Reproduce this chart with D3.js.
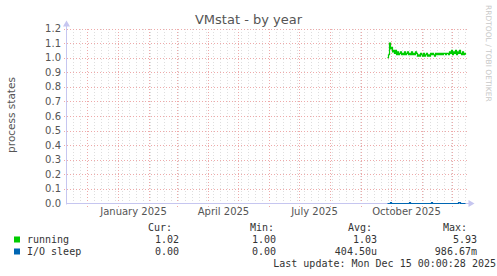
<!DOCTYPE html>
<html>
<head>
<meta charset="utf-8">
<script src="https://cdn.jsdelivr.net/npm/d3@7"></script>
<style>
  body { margin: 0; background: #fff; }
  text { font-family: "DejaVu Sans", sans-serif; }
  .mono { font-family: "DejaVu Sans Mono", monospace; font-size: 10px; fill: #333; }
</style>
</head>
<body>
<div id="chart"></div>
<script>
// data (daily averages, Munin year view = 400 days)
const lastUpdate = '2025-12-15T00:00:28Z';
const firstDay = '2025-09-27';
const runningValues = [
  1.00, 1.02, 1.10, 1.06,
  1.07, 1.04, 1.05, 1.03, 1.05, 1.02, 1.04, 1.02, 1.03, 1.04, 1.02, 1.03, 1.02, 1.04, 1.02, 1.03,
  1.04, 1.02, 1.03, 1.02, 1.04, 1.02, 1.03, 1.02, 1.04, 1.03, 1.01, 1.02, 1.01, 1.03, 1.02,
  1.01, 1.03, 1.01, 1.02, 1.03, 1.01, 1.02, 1.01, 1.03, 1.02, 1.03, 1.02, 1.01, 1.03, 1.02,
  1.03, 1.02, 1.03, 1.02, 1.03, 1.02, 1.03, 1.03, 1.02, 1.03, 1.03, 1.02, 1.04, 1.03, 1.05,
  1.02, 1.04, 1.03, 1.05, 1.02, 1.04, 1.03, 1.05, 1.03, 1.02, 1.04, 1.02, 1.03, 1.02
];
const ioSleepValues = [
  0, 0, 0, 0.006,
  0, 0, 0, 0, 0, 0, 0, 0, 0, 0, 0, 0, 0, 0, 0, 0,
  0, 0, 0.006, 0, 0, 0, 0, 0, 0, 0, 0, 0, 0, 0, 0,
  0, 0, 0, 0, 0, 0, 0, 0, 0, 0.006, 0, 0, 0, 0, 0,
  0, 0, 0, 0, 0, 0, 0, 0, 0, 0, 0, 0, 0, 0, 0,
  0, 0, 0, 0, 0, 0, 0.006, 0.006, 0, 0, 0, 0, 0, 0
];
const yTicks = [0, 0.1, 0.2, 0.3, 0.4, 0.5, 0.6, 0.7, 0.8, 0.9, 1.0, 1.1, 1.2];
const monthLabels = ['2025-01-01', '2025-04-01', '2025-07-01', '2025-10-01'];

const legendHeader = ['Cur:', 'Min:', 'Avg:', 'Max:'];
const legendRows = [
  {name: 'running', color: '#00cc00', stats: ['1.02', '1.00', '1.03', '5.93']},
  {name: 'I/O sleep', color: '#0066b3', stats: ['0.00', '0.00', '404.50u', '986.67m']}
];

const W = 497, H = 276;
const plot = {left: 66.5, right: 466.5, top: 28.5, bottom: 203.5};

const svg = d3.select('#chart').append('svg')
  .attr('width', W)
  .attr('height', H);

const end = new Date(lastUpdate);
const start = d3.utcDay.offset(end, -400);

const x = d3.scaleUtc().domain([start, end]).range([plot.left, plot.right]);
const y = d3.scaleLinear().domain([0, 1.2]).range([plot.bottom, plot.top]);

const day0 = new Date(firstDay + 'T00:00:00Z');
const series = (vals) => vals.map((v, i) => ({t: d3.utcDay.offset(day0, i), v: v}));

// minor grid: weeks
const months = d3.utcMonth.range(start, end);
const monthSet = new Set(months.map(d => +d));
const weeks = d3.utcSunday.range(start, end).filter(d => !monthSet.has(+d));

const grid = svg.append('g').attr('shape-rendering', 'crispEdges');
grid.selectAll('.minor')
  .data(weeks)
  .join('line')
  .attr('x1', d => Math.round(x(d)) + 0.5)
  .attr('x2', d => Math.round(x(d)) + 0.5)
  .attr('y1', plot.top)
  .attr('y2', plot.bottom)
  .attr('stroke', '#dedede')
  .attr('stroke-dasharray', '1,2');

grid.selectAll('.hgrid')
  .data(yTicks.slice(1))
  .join('line')
  .attr('x1', plot.left - 3)
  .attr('x2', plot.right + 2)
  .attr('y1', d => Math.round(y(d)) + 0.5)
  .attr('y2', d => Math.round(y(d)) + 0.5)
  .attr('stroke', '#eeaaaa')
  .attr('stroke-dasharray', '1,2');

grid.selectAll('.major')
  .data(months)
  .join('line')
  .attr('x1', d => Math.round(x(d)) + 0.5)
  .attr('x2', d => Math.round(x(d)) + 0.5)
  .attr('y1', plot.top)
  .attr('y2', plot.bottom + 3)
  .attr('stroke', '#eeaaaa')
  .attr('stroke-dasharray', '1,2');

// y axis labels
svg.append('g')
  .selectAll('text')
  .data(yTicks)
  .join('text')
  .attr('x', 61)
  .attr('y', d => y(d))
  .attr('dy', '0.35em')
  .attr('text-anchor', 'end')
  .style('font-size', '10px')
  .style('fill', '#555')
  .text(d => d3.format('.1f')(d));

// x labels, centered on the month like rrdtool does
svg.append('g')
  .selectAll('text')
  .data(monthLabels.map(s => new Date(s + 'T00:00:00Z')))
  .join('text')
  .attr('x', d => x(d3.utcDay.offset(d, 15)))
  .attr('y', 215)
  .attr('text-anchor', 'middle')
  .style('font-size', '10px')
  .style('fill', '#555')
  .text(d => d3.utcFormat('%B %Y')(d));

// data lines
const line = d3.line()
  .x(d => x(d.t))
  .y(d => y(d.v))
  .curve(d3.curveStepAfter);

svg.append('path')
  .datum(series(runningValues))
  .attr('d', line)
  .attr('fill', 'none')
  .attr('stroke', '#00cc00')
  .attr('stroke-width', 1.2);

// axes
const axisColor = '#c6c6f0';
svg.append('line')
  .attr('x1', plot.left).attr('x2', plot.right + 3)
  .attr('y1', plot.bottom).attr('y2', plot.bottom)
  .attr('stroke', axisColor);
svg.append('line')
  .attr('x1', plot.left).attr('x2', plot.left)
  .attr('y1', plot.bottom + 1).attr('y2', plot.top - 3)
  .attr('stroke', axisColor);
svg.append('path')
  .attr('d', `M${plot.right + 2},${plot.bottom - 3.5}L${plot.right + 8},${plot.bottom}L${plot.right + 2},${plot.bottom + 3.5}Z`)
  .attr('fill', axisColor);
svg.append('path')
  .attr('d', `M${plot.left - 3.5},${plot.top - 2}L${plot.left},${plot.top - 8}L${plot.left + 3.5},${plot.top - 2}Z`)
  .attr('fill', axisColor);

svg.append('path')
  .datum(series(ioSleepValues))
  .attr('d', line)
  .attr('fill', 'none')
  .attr('stroke', '#0066b3')
  .attr('stroke-width', 1.2);

// title and labels
svg.append('text')
  .attr('x', 248.5)
  .attr('y', 24)
  .attr('text-anchor', 'middle')
  .style('font-size', '13px')
  .style('fill', '#555')
  .text('VMstat - by year');

svg.append('text')
  .attr('transform', 'translate(15,115) rotate(-90)')
  .attr('text-anchor', 'middle')
  .style('font-size', '10.5px')
  .style('fill', '#555')
  .text('process states');

svg.append('text')
  .attr('transform', 'translate(486,5) rotate(90)')
  .attr('text-anchor', 'start')
  .style('font-size', '7.5px')
  .style('fill', '#c8c8c8')
  .text('RRDTOOL / TOBI OETIKER');

// legend
const colRight = [179, 276, 377, 477];
const headLeft = [148, 250, 348, 443];
const legend = svg.append('g');
legend.selectAll('.head')
  .data(legendHeader)
  .join('text')
  .attr('class', 'mono')
  .attr('x', (d, i) => headLeft[i])
  .attr('y', 231)
  .text(d => d);

legendRows.forEach((row, r) => {
  const yy = 243 + r * 12;
  legend.append('rect')
    .attr('x', 14).attr('y', yy - 6.5)
    .attr('width', 6).attr('height', 6)
    .attr('fill', row.color);
  legend.append('text')
    .attr('class', 'mono')
    .attr('x', 27).attr('y', yy)
    .text(row.name);
  legend.selectAll('.v' + r)
    .data(row.stats)
    .join('text')
    .attr('class', 'mono')
    .attr('x', (d, i) => colRight[i])
    .attr('y', yy)
    .attr('text-anchor', 'end')
    .text(d => d);
});

legend.append('text')
  .attr('class', 'mono')
  .attr('x', 496)
  .attr('y', 267)
  .attr('text-anchor', 'end')
  .text('Last update: Mon Dec 15 00:00:28 2025');
</script>
</body>
</html>
